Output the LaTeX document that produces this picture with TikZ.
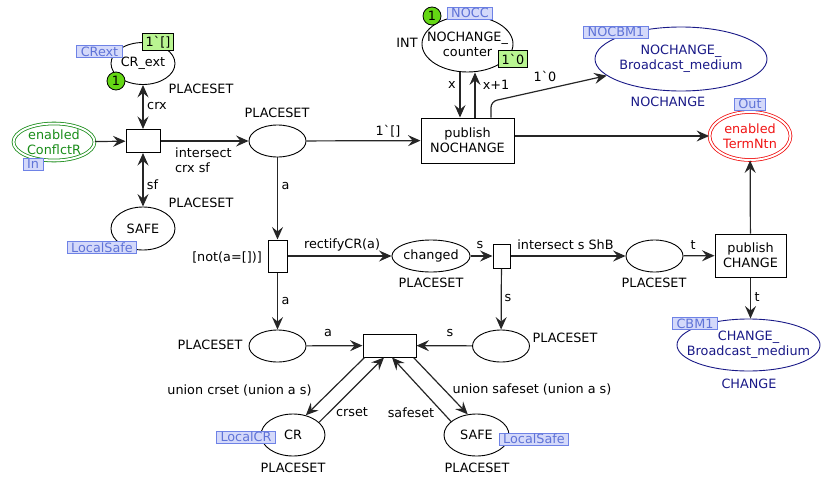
\documentclass[tikz,border=0pt]{standalone}
\usepackage{fontspec}
\setmainfont{DejaVu Sans}[Ligatures=TeXOff]
\usetikzlibrary{shapes.geometric,arrows.meta}
\definecolor{cpngreen}{RGB}{25,140,25}
\definecolor{cpnred}{RGB}{240,20,20}
\definecolor{cpnnavy}{RGB}{25,25,135}
\definecolor{tagline}{RGB}{110,130,230}
\definecolor{tagfill}{RGB}{212,217,250}
\definecolor{tagtext}{RGB}{95,115,215}
\definecolor{markfill}{RGB}{185,245,145}
\definecolor{tokfill}{RGB}{100,215,20}

\begin{document}
\begin{tikzpicture}[x=1pt,y=-1pt,
    font=\fontsize{12.8}{15}\selectfont,
    >={Stealth[length=12.5pt,width=11pt,inset=4.5pt]},
    place/.style={draw,ellipse,inner sep=0pt,line width=0.9pt},
    trans/.style={draw,rectangle,inner sep=0pt,line width=1pt,align=center},
    cpnarc/.style={draw=black!85,line width=1.2pt,->},
    biarc/.style={draw=black!85,line width=1.2pt,<->},
    tag/.style={draw=tagline,fill=tagfill,text=tagtext,inner xsep=4pt,inner ysep=0pt,minimum height=12pt,line width=0.8pt},
    initmark/.style={draw,fill=markfill,inner xsep=3pt,inner ysep=0pt,minimum height=17pt,line width=0.8pt},
    tok/.style={draw,circle,fill=tokfill,inner sep=0pt,minimum size=18pt,line width=0.8pt},
    lbl/.style={inner sep=0pt}]
      \useasboundingbox (0,0) rectangle (821,479);

      \node[place,minimum width=64pt,minimum height=42pt] (CRext) at (143,63.5) {CR\_ext};
      \node[place,draw=cpngreen,text=cpngreen,double,double distance=2pt,line width=0.8pt,
            minimum width=81pt,minimum height=37pt,align=center] (ConflctR) at (54,142) {enabled\\ConflctR};
      \node[place,minimum width=64pt,minimum height=43pt] (SAFEl) at (143,228.5) {SAFE};
      \node[place,minimum width=57pt,minimum height=32pt] (p1) at (277.5,141) {};
      \node[place,minimum width=91pt,minimum height=56pt] (NOCC) at (467.5,44) {};
      \node[lbl,align=center] (nNOCC) at (NOCC) {NOCHANGE\_\\counter};
      \node[place,draw=cpnnavy,minimum width=172pt,minimum height=64pt] (NOCBM) at (681,59) {};
      \node[lbl,align=center,text=cpnnavy] (nNOCBM) at (NOCBM) {NOCHANGE\_\\Broadcast\_medium};
      \node[place,draw=cpnred,text=cpnred,double,double distance=2pt,line width=0.8pt,
            minimum width=81pt,minimum height=48pt,align=center] (TermNtn) at (750,136) {enabled\\TermNtn};
      \node[place,minimum width=72pt,minimum height=32pt] (changed) at (431,256) {changed};
      \node[place,minimum width=57pt,minimum height=32pt] (pt) at (654.5,256) {};
      \node[place,draw=cpnnavy,minimum width=143pt,minimum height=52pt] (CBM) at (748.5,345) {};
      \node[lbl,align=center,text=cpnnavy] (nCBM) at (CBM) {CHANGE\_\\Broadcast\_medium};
      \node[place,minimum width=57pt,minimum height=32pt] (pa) at (277.5,346) {};
      \node[place,minimum width=57pt,minimum height=32pt] (ps) at (501,346) {};
      \node[place,minimum width=64pt,minimum height=42pt] (CR) at (293,435) {CR};
      \node[place,minimum width=65pt,minimum height=42pt] (SAFEb) at (476.5,435) {SAFE};

      \node[trans,minimum width=34pt,minimum height=23pt] (t1) at (143,141) {};
      \node[trans,minimum width=93pt,minimum height=45pt] (pubNC) at (467.5,140.5) {publish\\NOCHANGE};
      \node[trans,minimum width=19pt,minimum height=32pt] (t2) at (277.5,256) {};
      \node[trans,minimum width=17pt,minimum height=24pt] (t3) at (501.5,256) {};
      \node[trans,minimum width=71pt,minimum height=43pt] (pubC) at (750.5,255.5) {publish\\CHANGE};
      \node[trans,minimum width=53pt,minimum height=23pt] (t4) at (389.5,345.5) {};

      \draw[biarc] (CRext) -- (t1);
      \draw[cpnarc] (ConflctR) -- (t1);
      \draw[cpnarc] (t1) -- (p1);
      \draw[biarc] (t1) -- (SAFEl);
      \draw[cpnarc] (p1) -- (pubNC);
      \draw[cpnarc] ([xshift=-7.5pt]NOCC.south) -- ([xshift=-7.5pt]pubNC.north);
      \draw[cpnarc] ([xshift=7.5pt]pubNC.north) -- ([xshift=7.5pt]NOCC.south);
      \draw[cpnarc,rounded corners=6pt] ([xshift=23.5pt]pubNC.north) -- ++(0,-16) -- (NOCBM);
      \draw[cpnarc] (pubNC.east |- TermNtn) -- (TermNtn);
      \draw[cpnarc] (pubC) -- (TermNtn);
      \draw[cpnarc] (pubC.south) -- (pubC.south |- CBM.north);
      \draw[cpnarc] (p1) -- (t2);
      \draw[cpnarc] (t2) -- (changed);
      \draw[cpnarc] (t2) -- (pa);
      \draw[cpnarc] (changed) -- (t3);
      \draw[cpnarc] (t3) -- (pt);
      \draw[cpnarc] (t3) -- (ps);
      \draw[cpnarc] (pt) -- (pubC);
      \draw[cpnarc] (pa) -- (t4);
      \draw[cpnarc] (ps) -- (t4);
      \draw[cpnarc] ([xshift=2pt]t4.south west) -- (CR.57);
      \draw[cpnarc] (CR.26) -- ([xshift=-5.5pt]t4.south);
      \draw[cpnarc] (SAFEb.152) -- ([xshift=2.5pt]t4.south);
      \draw[cpnarc] ([xshift=-3pt]t4.south east) -- (SAFEb.113);

      \foreach \x/\y/\t/\n in {99.5/51.5/CRext/gCRext, 33/164/In/gIn, 102/247.5/LocalSafe/gSafeA,
          470/13/NOCC/gNOCC, 616/32/NOCBM1/gNOCBM, 750/104/Out/gOut, 695/323.5/CBM1/gCBM,
          246/437/LocalCR/gCR, 534/439/LocalSafe/gSafeB} {
        \node[tag] (\n) at (\x,\y) {\t};
      }
      \node[initmark] (m1) at (158,42) {1`[]};
      \node[initmark] (m2) at (513,59) {1`0};
      \node[tok] (k1) at (116,81) {1};
      \node[tok] (k2) at (432,16) {1};

      \foreach \x/\y/\n in {201/89/ty1, 201/203/ty2, 277/113/ty3, 431/283/ty4, 654/283/ty5,
          210/345/ty6, 565/338/ty7, 293/468/ty8, 477/468/ty9} {
        \node[lbl] (\n) at (\x,\y) {PLACESET};
      }
      \node[lbl] (iINT) at (407,43) {INT};
      \node[lbl,text=cpnnavy] (iNOC) at (668,102) {NOCHANGE};
      \node[lbl,text=cpnnavy] (iCH) at (749,384) {CHANGE};
      \node[lbl] (icrx) at (157,106) {crx};
      \node[lbl] (isf) at (152.5,185) {sf};
      \node[lbl,align=left,anchor=west] (iint) at (175,160) {intersect\\crx sf};
      \node[lbl] (ie1) at (388,131) {1`[]};
      \node[lbl] (ix) at (452,85) {x};
      \node[lbl] (ix1) at (496,85) {x+1};
      \node[lbl] (i10) at (545,76) {1`0};
      \node[lbl] (ia1) at (285.5,186) {a};
      \node[lbl] (iguard) at (227,257) {[not(a=[])]};
      \node[lbl] (irect) at (342,245) {rectifyCR(a)};
      \node[lbl] (ia2) at (285.5,301) {a};
      \node[lbl] (is1) at (480,245) {s};
      \node[lbl] (iShB) at (565.5,245) {intersect s ShB};
      \node[lbl] (is2) at (508,298) {s};
      \node[lbl] (it1) at (693,245) {t};
      \node[lbl] (it2) at (757,297) {t};
      \node[lbl] (ia3) at (328,333) {a};
      \node[lbl] (is3) at (450,333) {s};
      \node[lbl] (iucr) at (239.5,390) {union crset (union a s)};
      \node[lbl] (icrset) at (352,412) {crset};
      \node[lbl] (isafeset) at (411,413) {safeset};
      \node[lbl] (iusf) at (532,389) {union safeset (union a s)};
\end{tikzpicture}
\end{document}
